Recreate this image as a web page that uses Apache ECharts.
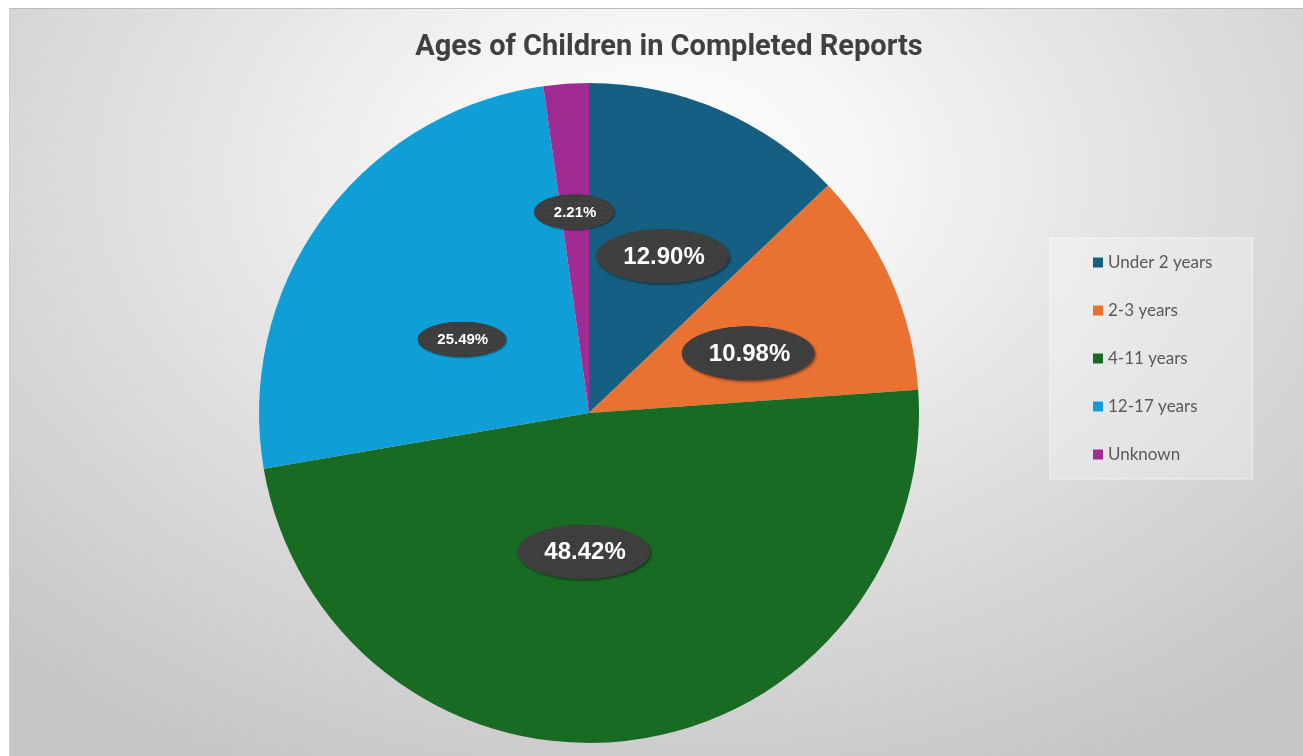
<!DOCTYPE html>
<html><head><meta charset="utf-8">
<script src="https://cdn.jsdelivr.net/npm/echarts@6/dist/echarts.min.js"></script>
<style>
html,body{margin:0;padding:0;background:#fff;overflow:hidden;}
#bg{position:absolute;left:9px;top:8px;width:1294px;height:748px;box-sizing:border-box;
 border-top:1px solid #bdbdbd;border-left:1px solid #cfcfcf;
 background:radial-gradient(ellipse 72% 88% at 50% 22%, #ffffff 0%, #f6f6f6 22%, #dcdcdc 62%, #c6c6c6 100%);}
#c{position:absolute;left:0;top:0;width:1303px;height:756px;}
</style>
</head><body><div id="bg"></div><div id="c"></div>
<script>
const titleText = 'Ages of Children in Completed Reports';
const categories = ['Under 2 years', '2-3 years', '4-11 years', '12-17 years', 'Unknown'];
const values = [12.90, 10.98, 48.42, 25.49, 2.21];
const colors = ['#156082', '#E97132', '#196B24', '#0F9ED5', '#A02B93'];

// ---- styling / layout (not data) ----
const CX = 589, CY = 413, R = 330;
const smallLabels = ['12-17 years', 'Unknown'];
// label placement: radial fraction and angular offset (deg) relative to slice mid-angle
const labelPlace = [
  {r: 0.524, da: 2.5}, {r: 0.518, da: 3.7}, {r: 0.424, da: 8.5},
  {r: 0.442, da: -6.1}, {r: 0.609, da: 0}
];

function ellipseImage() {
  const c = document.createElement('canvas');
  c.width = 300; c.height = 124;
  const g = c.getContext('2d');
  g.save();
  g.shadowColor = 'rgba(0,0,0,0.45)';
  g.shadowBlur = 5; g.shadowOffsetX = 3; g.shadowOffsetY = 3;
  g.beginPath();
  g.ellipse(147, 60, 143, 56, 0, 0, Math.PI * 2);
  g.fillStyle = '#3d3d3d';
  g.fill();
  g.restore();
  g.save();
  g.beginPath();
  g.ellipse(147, 60, 143, 56, 0, 0, Math.PI * 2);
  g.clip();
  g.fillStyle = 'rgba(255,255,255,0.07)';
  for (let y = 1; y < 124; y += 4) for (let x = (y % 8 === 1 ? 1 : 3); x < 300; x += 4) g.fillRect(x, y, 1.5, 1.5);
  g.restore();
  return c;
}
const ellImg = ellipseImage();

const total = values.reduce((a, b) => a + b, 0);
const midAngles = [];
{ let acc = 0; values.forEach(v => { midAngles.push((acc + v / 2) / total * 360); acc += v; }); }

const data = categories.map((name, i) => {
  const small = smallLabels.indexOf(name) >= 0;
  return {
    name, value: values[i],
    itemStyle: {color: colors[i]},
    label: small ? {fontSize: 15, padding: [12, 21, 12, 21]} : {fontSize: 24, padding: [18, 29, 18, 29]}
  };
});

const chart = echarts.init(document.getElementById('c'), null, {renderer: 'canvas'});
chart.setOption({
  animation: false,
  backgroundColor: 'transparent',
  title: {
    text: titleText, left: 664, top: 28, textAlign: 'center',
    textStyle: {fontFamily: 'Roboto, "Liberation Sans", sans-serif',
      fontWeight: 'bold', fontSize: 29, color: '#404040'}
  },
  legend: {
    orient: 'vertical', left: 1050, top: 238,
    icon: 'rect', itemWidth: 10, itemHeight: 10, itemGap: 31,
    padding: [16, 40, 16, 43],
    backgroundColor: 'rgba(255,255,255,0.28)', borderColor: 'rgba(255,255,255,0.6)', borderWidth: 1,
    textStyle: {fontFamily: 'Lato, "Open Sans", sans-serif', fontSize: 17, color: '#595959', lineHeight: 17},
    data: categories
  },
  series: [{
    type: 'pie', center: [CX, CY], radius: R, startAngle: 90, clockwise: true,
    avoidLabelOverlap: false,
    itemStyle: {borderWidth: 0},
    label: {
      show: true, position: 'inside',
      formatter: p => p.value.toFixed(2) + '%',
      color: '#ffffff', fontWeight: 'bold',
      fontFamily: '"Liberation Sans", Arial, sans-serif',
      backgroundColor: {image: ellImg}
    },
    labelLine: {show: false},
    labelLayout: function (p) {
      const lp = labelPlace[p.dataIndex];
      const a = (midAngles[p.dataIndex] + lp.da) * Math.PI / 180;
      return {x: CX + lp.r * R * Math.sin(a), y: CY - lp.r * R * Math.cos(a), align: 'center', verticalAlign: 'middle'};
    },
    emphasis: {disabled: true},
    data
  }]
});
</script>
</body></html>
